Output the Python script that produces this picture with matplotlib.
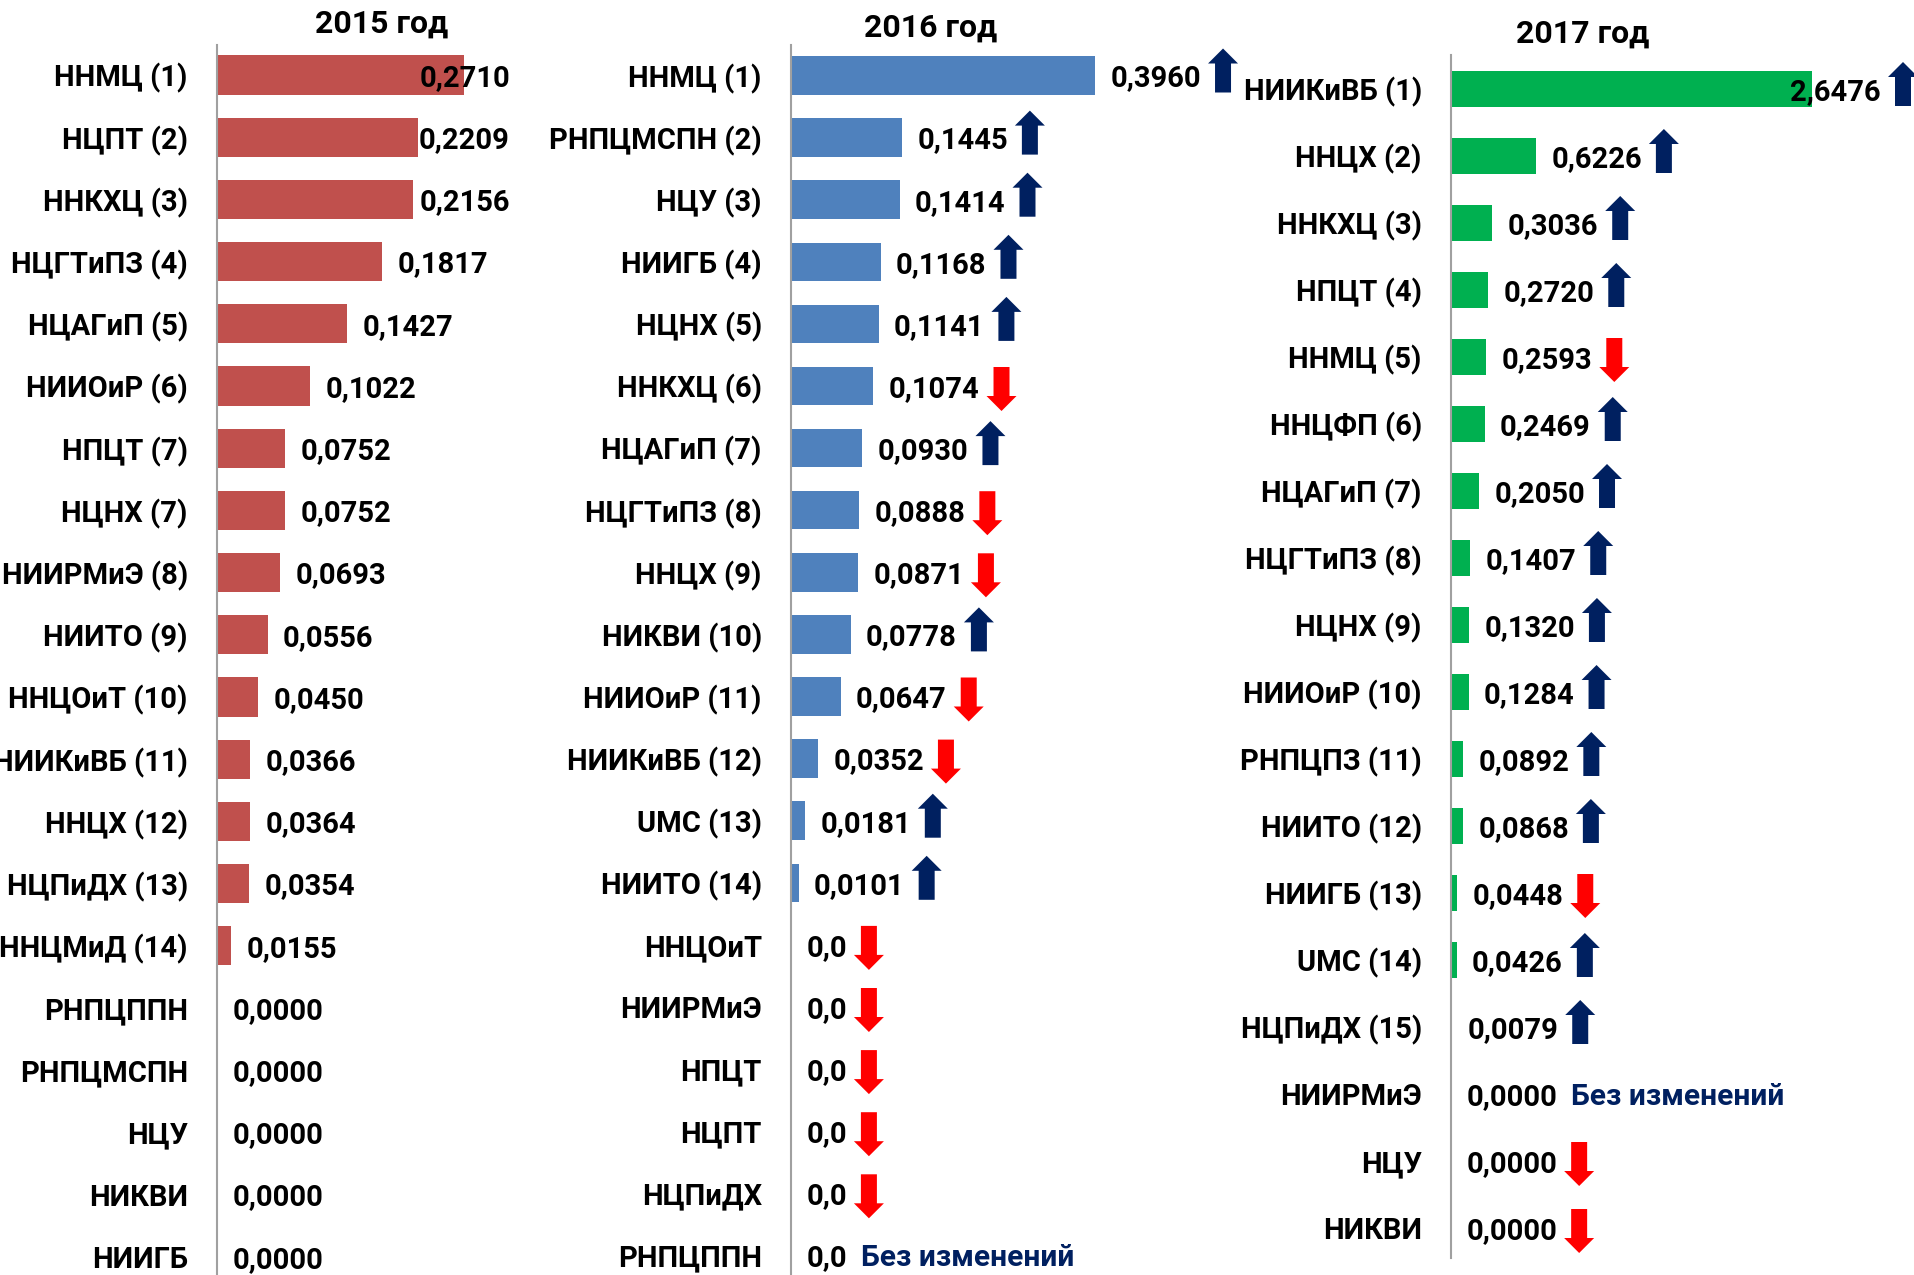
import matplotlib
matplotlib.use("Agg")
import matplotlib.pyplot as plt
from matplotlib.patches import Polygon
from matplotlib.transforms import IdentityTransform

W, H = 1915, 1275
DPI = 100

### Data ###
names_2015 = ["ННМЦ (1)", "НЦПТ (2)", "ННКХЦ (3)", "НЦГТиПЗ (4)", "НЦАГиП (5)",
              "НИИОиР (6)", "НПЦТ (7)", "НЦНХ (7)", "НИИРМиЭ (8)", "НИИТО (9)",
              "ННЦОиТ (10)", "НИИКиВБ (11)", "ННЦХ (12)", "НЦПиДХ (13)", "ННЦМиД (14)",
              "РНПЦППН", "РНПЦМСПН", "НЦУ", "НИКВИ", "НИИГБ"]
vals_2015 = [0.2710, 0.2209, 0.2156, 0.1817, 0.1427, 0.1022, 0.0752, 0.0752, 0.0693, 0.0556,
             0.0450, 0.0366, 0.0364, 0.0354, 0.0155, 0.0, 0.0, 0.0, 0.0, 0.0]
trend_2015 = [None] * 20

names_2016 = ["ННМЦ (1)", "РНПЦМСПН (2)", "НЦУ (3)", "НИИГБ (4)", "НЦНХ (5)",
              "ННКХЦ (6)", "НЦАГиП (7)", "НЦГТиПЗ (8)", "ННЦХ (9)", "НИКВИ (10)",
              "НИИОиР (11)", "НИИКиВБ (12)", "UMC (13)", "НИИТО (14)", "ННЦОиТ",
              "НИИРМиЭ", "НПЦТ", "НЦПТ", "НЦПиДХ", "РНПЦППН"]
vals_2016 = [0.3960, 0.1445, 0.1414, 0.1168, 0.1141, 0.1074, 0.0930, 0.0888, 0.0871, 0.0778,
             0.0647, 0.0352, 0.0181, 0.0101, 0.0, 0.0, 0.0, 0.0, 0.0, 0.0]
trend_2016 = ["up", "up", "up", "up", "up", "down", "up", "down", "down", "up",
              "down", "down", "up", "up", "down", "down", "down", "down", "down", "same"]

names_2017 = ["НИИКиВБ (1)", "ННЦХ (2)", "ННКХЦ (3)", "НПЦТ (4)", "ННМЦ (5)",
              "ННЦФП (6)", "НЦАГиП (7)", "НЦГТиПЗ (8)", "НЦНХ (9)", "НИИОиР (10)",
              "РНПЦПЗ (11)", "НИИТО (12)", "НИИГБ (13)", "UMC (14)", "НЦПиДХ (15)",
              "НИИРМиЭ", "НЦУ", "НИКВИ"]
vals_2017 = [2.6476, 0.6226, 0.3036, 0.2720, 0.2593, 0.2469, 0.2050, 0.1407, 0.1320, 0.1284,
             0.0892, 0.0868, 0.0448, 0.0426, 0.0079, 0.0, 0.0, 0.0]
trend_2017 = ["up", "up", "up", "up", "down", "up", "up", "up", "up", "up",
              "up", "up", "down", "up", "up", "same", "down", "down"]

NO_CHANGE = "Без изменений"

FONT = ["Roboto", "DejaVu Sans"]
plt.rcParams["font.family"] = FONT
FS = 21
NAVY = "#002060"
RED = "#FF0000"

# panel layout in pixels: left, top, width, bottom, px per unit, first row y, row step
panels = [
    dict(title="2015 год", names=names_2015, vals=vals_2015, trend=trend_2015, color="#C0504D",
         left=217, top=45, width=300, bottom=1275, scale=910, row0=75, step=62.2,
         bar_h=0.63, zero="0,0000", limit=510, tx=382, ty=33),
    dict(title="2016 год", names=names_2016, vals=vals_2016, trend=trend_2016, color="#4F81BD",
         left=791, top=45, width=420, bottom=1275, scale=768, row0=75.5, step=62.1,
         bar_h=0.62, zero="0,0", limit=None, tx=931, ty=37),
    dict(title="2017 год", names=names_2017, vals=vals_2017, trend=trend_2017, color="#00B050",
         left=1451, top=55, width=460, bottom=1258, scale=136.5, row0=89, step=67,
         bar_h=0.55, zero="0,0000", limit=1881, tx=1583, ty=43),
]

fig = plt.figure(figsize=(W / DPI, H / DPI), dpi=DPI)
fig.patch.set_facecolor("white")

texts = []
for p in panels:
    n = len(p["vals"])
    ax = fig.add_axes([p["left"] / W, 1 - p["bottom"] / H, p["width"] / W,
                       (p["bottom"] - p["top"]) / H])
    ax.barh(range(n), p["vals"], height=p["bar_h"], color=p["color"])
    ax.set_xlim(0, p["width"] / p["scale"])
    y_top = -(p["row0"] - p["top"]) / p["step"]
    y_bot = (n - 1) + (p["bottom"] - (p["row0"] + (n - 1) * p["step"])) / p["step"]
    ax.set_ylim(y_bot, y_top)
    ax.set_yticks(range(n))
    ax.set_yticklabels(p["names"], fontsize=FS, fontweight="bold")
    ax.tick_params(axis="y", length=0, pad=21)
    ax.set_xticks([])
    for s in ["top", "right", "bottom"]:
        ax.spines[s].set_visible(False)
    ax.spines["left"].set_color("#A0A0A0")
    ax.spines["left"].set_linewidth(1.5)
    ax.patch.set_alpha(0)

    fig.text(p["tx"] / W, 1 - p["ty"] / H, p["title"], ha="center", va="baseline",
             fontsize=23, fontweight="bold")

    for i, v in enumerate(p["vals"]):
        lab = p["zero"] if v == 0 else ("%.4f" % v).replace(".", ",")
        t = ax.annotate(lab, xy=(v, i), xytext=(11, 0), textcoords="offset points",
                        ha="left", va="center_baseline", fontsize=FS, fontweight="bold",
                        annotation_clip=False)
        texts.append((ax, p, i, v, t))

fig.canvas.draw()
renderer = fig.canvas.get_renderer()

for ax, p, i, v, t in texts:
    bb = t.get_window_extent(renderer)
    if p["limit"] is not None and bb.x1 > p["limit"]:
        x_anchor = ax.transData.transform((v, i))[0]
        t.set_ha("right")
        t.set_position(((p["limit"] - x_anchor) * 72 / DPI, 0))
        fig.canvas.draw()
        bb = t.get_window_extent(renderer)
    tr = p["trend"][i]
    if tr is None:
        continue
    cy = ax.transData.transform((0, i))[1]
    if tr == "same":
        fig.text((bb.x1 + 14) / W, cy / H, NO_CHANGE, ha="left", va="center_baseline",
                 fontsize=FS + 0.5, fontweight="bold", color=NAVY)
        continue
    cx = bb.x1 + 22
    L, sw, hw, hl = 44, 16, 30, 15
    if tr == "up":
        cy += 5
        tip, base = cy + L / 2, cy - L / 2
        hb = tip - hl
        col = NAVY
    else:
        cy -= 3
        tip, base = cy - L / 2, cy + L / 2
        hb = tip + hl
        col = RED
    pts = [(cx, tip), (cx - hw / 2, hb), (cx - sw / 2, hb), (cx - sw / 2, base),
           (cx + sw / 2, base), (cx + sw / 2, hb), (cx + hw / 2, hb)]
    fig.add_artist(Polygon(pts, closed=True, facecolor=col, edgecolor="none",
                           transform=IdentityTransform()))

fig.savefig("out.png", dpi=DPI)
